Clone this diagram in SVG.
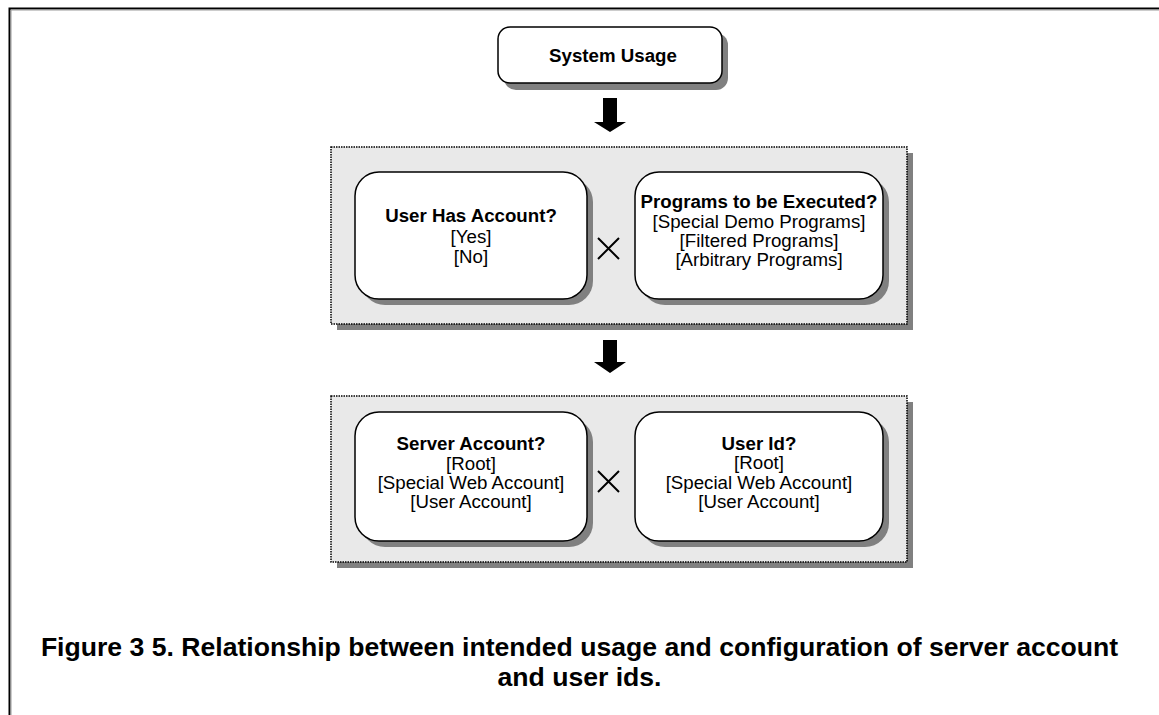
<svg xmlns="http://www.w3.org/2000/svg" width="1159" height="715" viewBox="0 0 1159 715">
<style>
.shadow{fill:#808080}
.panel{fill:#e9e9e9;stroke:#000;stroke-width:1.5;stroke-dasharray:1.5 1}
.node{fill:#fff;stroke:#000;stroke-width:1.5}
.t{font-family:"Liberation Sans",Arial,sans-serif;font-size:18.7px;text-anchor:middle;fill:#000}
.b{font-weight:bold}
.x{stroke:#000;stroke-width:2;fill:none}
.arrow{fill:#000}
.cap{font-family:"Liberation Sans",Arial,sans-serif;font-size:26.6px;font-weight:bold;text-anchor:middle;fill:#000}
</style>
<rect x="0" y="0" width="1159" height="715" fill="#fff"/>
<g id="frame">
<path d="M9.5 715 V8.5 H1159" fill="none" stroke="#000" stroke-width="2"/>
<path d="M11 715 V10 H1159" fill="none" stroke="#999" stroke-width="1"/>
</g>
<g id="system-usage">
<rect class="shadow" x="504" y="33" width="224" height="57" rx="12"/>
<rect class="node" x="498" y="27" width="224" height="56" rx="12"/>
<text class="t b" x="613" y="62">System Usage</text>
</g>
<g id="panel1">
<rect class="shadow" x="337" y="153" width="576" height="177"/>
<rect class="panel" x="331" y="147" width="576" height="177"/>
</g>
<g id="user-has-account">
<rect class="shadow" x="361" y="178" width="232" height="127" rx="24"/>
<rect class="node" x="355" y="172" width="232" height="127" rx="24"/>
<text class="t b" x="471" y="222">User Has Account?</text>
<text class="t" x="471" y="243">[Yes]</text>
<text class="t" x="471" y="263">[No]</text>
</g>
<g id="cross1"><path class="x" d="M598 238 L619 259 M619 238 L598 259"/></g>
<g id="programs">
<rect class="shadow" x="641" y="178" width="248" height="127" rx="24"/>
<rect class="node" x="635" y="172" width="248" height="127" rx="24"/>
<text class="t b" x="759" y="208">Programs to be Executed?</text>
<text class="t" x="759" y="228">[Special Demo Programs]</text>
<text class="t" x="759" y="247">[Filtered Programs]</text>
<text class="t" x="759" y="266">[Arbitrary Programs]</text>
</g>
<g id="panel2">
<rect class="shadow" x="337" y="402" width="576" height="166"/>
<rect class="panel" x="331" y="396" width="576" height="166"/>
</g>
<g id="server-account">
<rect class="shadow" x="361" y="418" width="232" height="129" rx="24"/>
<rect class="node" x="355" y="412" width="232" height="129" rx="24"/>
<text class="t b" x="471" y="450">Server Account?</text>
<text class="t" x="471" y="470">[Root]</text>
<text class="t" x="471" y="489">[Special Web Account]</text>
<text class="t" x="471" y="508">[User Account]</text>
</g>
<g id="cross2"><path class="x" d="M598 471 L619 492 M619 471 L598 492"/></g>
<g id="user-id">
<rect class="shadow" x="641" y="418" width="248" height="129" rx="24"/>
<rect class="node" x="635" y="412" width="248" height="129" rx="24"/>
<text class="t b" x="759" y="450">User Id?</text>
<text class="t" x="759" y="469">[Root]</text>
<text class="t" x="759" y="489">[Special Web Account]</text>
<text class="t" x="759" y="508">[User Account]</text>
</g>
<g id="connectors">
<path class="arrow" d="M603 98 H617 V122 H626 L610 132 L594 122 H603 Z"/>
<path class="arrow" d="M603 340 H617 V362 H626 L610 373 L594 362 H603 Z"/>
</g>
<g id="caption">
<text class="cap" x="579.5" y="656">Figure 3 5. Relationship between intended usage and configuration of server account</text>
<text class="cap" x="579.5" y="686">and user ids.</text>
</g>
</svg>
